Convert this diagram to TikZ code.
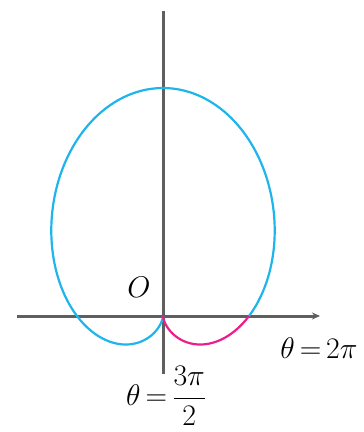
\documentclass[tikz,border=0pt]{standalone}
\usepackage{graphicx}
\usetikzlibrary{arrows.meta}
\definecolor{curveblue}{RGB}{30,180,236}
\definecolor{curvepink}{RGB}{236,30,140}
\definecolor{axisgray}{RGB}{95,95,95}
\newcommand{\biglab}[1]{\scalebox{1.2}{\Huge #1}}
\begin{document}
\begin{tikzpicture}[x=1pt,y=-1pt,
  axisline/.style={draw=axisgray,line width=3pt},
  curveline/.style={line width=2.2pt,smooth},
  lab/.style={inner sep=0pt}]
\useasboundingbox (0,0) rectangle (364,432);
\coordinate (xl) at (17,316);
\coordinate (xr) at (320,316);
\coordinate (yt) at (163,11);
\coordinate (yb) at (163,374);
\draw[axisline,-{Stealth[length=8pt,width=7pt]}] (xl) -- (xr);
\draw[axisline] (yt) -- (yb);
\draw[curveline,draw=curveblue] plot[domain=0:270,samples=240,variable=\t]
  ({163+86*(1+sin(\t))*cos(\t)},{316-114*(1+sin(\t))*sin(\t)});
\draw[curveline,draw=curvepink] plot[domain=270:360,samples=100,variable=\t]
  ({163+86*(1+sin(\t))*cos(\t)},{316-114*(1+sin(\t))*sin(\t)});
\node[lab] (o) at (139,287) {\biglab{$O$}};
\node[lab] (t2) at (319,348) {\biglab{$\theta\mkern3mu{=}\mkern3mu2\pi$}};
\node[lab,anchor=west] (t3) at (126,396) {\biglab{$\theta\mkern3mu{=}\mkern3mu{\displaystyle\frac{3\pi}{2}}$}};
\end{tikzpicture}
\end{document}
